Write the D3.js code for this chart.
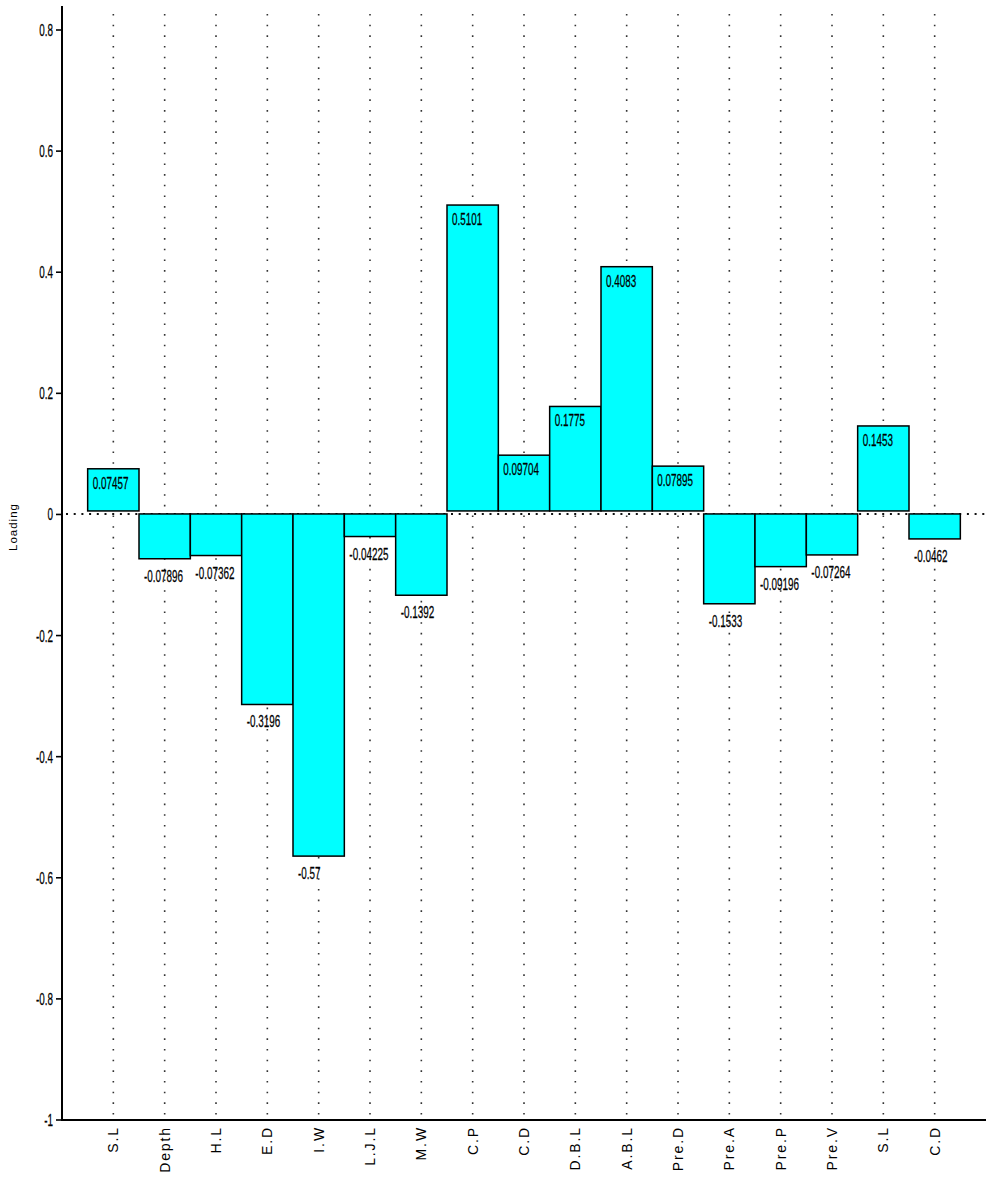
<!DOCTYPE html>
<html>
<head>
<meta charset="utf-8">
<title>Loading</title>
<script src="https://d3js.org/d3.v7.min.js"></script>
<style>
  body { margin: 0; background: #fff; font-family: "Liberation Sans", Arial, sans-serif; }
  .num { font-size: 16.5px; fill: #000; stroke: #000; stroke-width: 0.25px; }
  .cat { font-size: 14px; letter-spacing: 1.9px; fill: #000; }
</style>
</head>
<body>
<div id="chart"></div>
<script>
// chart data
const categories = ["S.L", "Depth", "H.L", "E.D", "I.W", "L.J.L", "M.W", "C.P", "C.D",
                    "D.B.L", "A.B.L", "Pre.D", "Pre.A", "Pre.P", "Pre.V", "S.L", "C.D"];
const loadings = [0.07457, -0.07896, -0.07362, -0.3196, -0.57, -0.04225, -0.1392, 0.5101, 0.09704,
                  0.1775, 0.4083, 0.07895, -0.1533, -0.09196, -0.07264, 0.1453, -0.0462];
const labels = ["0.07457", "-0.07896", "-0.07362", "-0.3196", "-0.57", "-0.04225", "-0.1392", "0.5101", "0.09704",
                "0.1775", "0.4083", "0.07895", "-0.1533", "-0.09196", "-0.07264", "0.1453", "-0.0462"];
const yTicks = [0.8, 0.6, 0.4, 0.2, 0, -0.2, -0.4, -0.6, -0.8, -1];

const width = 986, height = 1178;
const m = { left: 62, right: 986, top: 6, bottom: 1120 };
const squash = 0.6; // narrow text look

const svg = d3.select("#chart").append("svg")
  .attr("width", width).attr("height", height);

const x = d3.scaleBand()
  .domain(d3.range(categories.length))
  .range([m.left, m.right])
  .paddingInner(0).paddingOuter(0.5);

const y = d3.scaleLinear().domain([-1, 0.8]).range([1119.5, 29.5]);

// dotted guides
svg.append("g").selectAll("line")
  .data(d3.range(categories.length))
  .join("line")
  .attr("x1", i => x(i) + x.bandwidth() / 2)
  .attr("x2", i => x(i) + x.bandwidth() / 2)
  .attr("y1", 14).attr("y2", m.bottom)
  .attr("stroke", "#333").attr("stroke-width", 1.6)
  .attr("stroke-dasharray", "1.6 9.07");

svg.append("line")
  .attr("x1", m.left + 4).attr("x2", m.right)
  .attr("y1", y(0)).attr("y2", y(0))
  .attr("stroke", "#111").attr("stroke-width", 2)
  .attr("stroke-dasharray", "2 5.7");

// bars (bottom edge pulled up 3px like the original)
svg.append("g").selectAll("rect")
  .data(loadings)
  .join("rect")
  .attr("x", (d, i) => x(i))
  .attr("width", x.bandwidth())
  .attr("y", d => Math.min(y(d), y(0)))
  .attr("height", d => Math.abs(y(d) - y(0)) - 3)
  .attr("fill", "#00ffff")
  .attr("stroke", "#000")
  .attr("stroke-width", 1.5);

// value labels
svg.append("g").selectAll("g")
  .data(loadings)
  .join("g")
  .attr("transform", (d, i) => `translate(${x(i) + 5},${y(d) + 20})`)
  .append("text")
  .attr("class", "num")
  .attr("transform", `scale(${squash},1)`)
  .text((d, i) => labels[i]);

// y axis
const yAxis = svg.append("g")
  .attr("transform", `translate(${m.left},0)`)
  .call(d3.axisLeft(y).tickValues(yTicks).tickSize(6).tickFormat(d => String(d)));
yAxis.select(".domain").remove();
yAxis.selectAll(".tick line").attr("stroke", "#000").attr("stroke-width", 1.6);
yAxis.selectAll(".tick text")
  .attr("class", "num")
  .attr("x", -9 / squash)
  .attr("dy", "0.36em")
  .attr("transform", `scale(${squash},1)`);
yAxis.attr("font-family", null).attr("font-size", null);

svg.append("line")
  .attr("x1", m.left).attr("x2", m.left).attr("y1", m.top).attr("y2", m.bottom + 1)
  .attr("stroke", "#000").attr("stroke-width", 2);
svg.append("line")
  .attr("x1", m.left - 1).attr("x2", m.right).attr("y1", m.bottom).attr("y2", m.bottom)
  .attr("stroke", "#000").attr("stroke-width", 2.2);

// category labels
svg.append("g").selectAll("text")
  .data(categories)
  .join("text")
  .attr("class", "cat")
  .attr("text-anchor", "end")
  .attr("transform", (d, i) => `translate(${x(i) + x.bandwidth() / 2 + 5},1126) rotate(-90)`)
  .text(d => d);

// axis title
svg.append("text")
  .attr("transform", "translate(17,527) rotate(-90)")
  .attr("text-anchor", "middle")
  .attr("font-size", 11.5).attr("letter-spacing", 1)
  .text("Loading");
</script>
</body>
</html>
